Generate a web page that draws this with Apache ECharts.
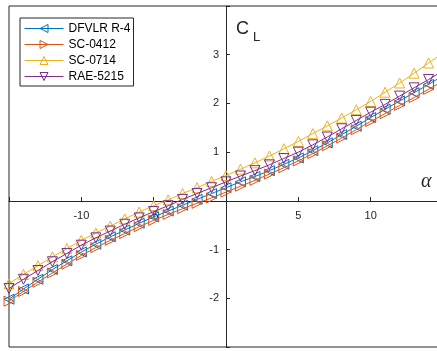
<!DOCTYPE html>
<html><head><meta charset="utf-8">
<script src="https://cdn.jsdelivr.net/npm/echarts@6/dist/echarts.min.js"></script>
<style>html,body{margin:0;padding:0;background:#fff}#c{width:437px;height:351px}</style>
</head><body><div id="c"></div>
<script>
var alpha = [-15,-14,-13,-12,-11,-10,-9,-8,-7,-6,-5,-4,-3,-2,-1,0,1,2,3,4,5,6,7,8,9,10,11,12,13,14,15];
var dfvlr = [-2.02,-1.81,-1.61,-1.41,-1.23,-1.05,-0.89,-0.74,-0.60,-0.46,-0.33,-0.21,-0.09,0.03,0.15,0.27,0.39,0.50,0.62,0.75,0.88,1.03,1.19,1.36,1.53,1.71,1.88,2.05,2.22,2.39,2.57];
var sc0412 = [-2.06,-1.86,-1.67,-1.48,-1.30,-1.12,-0.96,-0.81,-0.67,-0.53,-0.40,-0.28,-0.16,-0.05,0.06,0.18,0.30,0.42,0.55,0.68,0.82,0.97,1.13,1.29,1.46,1.63,1.79,1.96,2.12,2.29,2.46];
var sc0714 = [-1.70,-1.51,-1.33,-1.15,-0.98,-0.81,-0.66,-0.52,-0.37,-0.23,-0.10,0.02,0.15,0.27,0.40,0.52,0.65,0.78,0.92,1.07,1.22,1.38,1.54,1.70,1.87,2.04,2.23,2.42,2.62,2.83,3.04];
var rae5215 = [-1.80,-1.61,-1.43,-1.25,-1.08,-0.91,-0.76,-0.62,-0.48,-0.35,-0.22,-0.10,0.03,0.15,0.27,0.39,0.51,0.62,0.74,0.87,1.00,1.15,1.31,1.48,1.65,1.82,1.98,2.15,2.32,2.49,2.67];
var seriesNames = ['DFVLR R-4','SC-0412','SC-0714','RAE-5215'];
var seriesData = [dfvlr, sc0412, sc0714, rae5215];
var colors = ['#0072BD','#D95319','#EDB120','#7E2F8E'];
var rotations = [90, -90, 0, 180];
var xTickLabels = {'-10':'-10','-5':'-5','5':'5','10':'10'};
var yTickLabels = {'-2':'-2','-1':'-1','1':'1','2':'2','3':'3'};

var chart = echarts.init(document.getElementById('c'));
var series = seriesNames.map(function(n,i){
  return {
    name: n, type: 'line',
    data: alpha.map(function(a,j){return [a, seriesData[i][j]];}),
    symbol: 'triangle', symbolSize: 10, symbolRotate: rotations[i],
    showAllSymbol: true,
    lineStyle: {color: colors[i], width: 1},
    itemStyle: {color: 'none', borderColor: colors[i], borderWidth: 1},
    emphasis: {disabled: true},
    animation: false,
    z: 2 + i
  };
});
chart.setOption({
  animation: false,
  grid: {left: 9, top: 6, width: 434, height: 341, show: true, borderColor: '#262626', borderWidth: 1, containLabel: false, outerBoundsMode: 'none'},
  xAxis: {type: 'value', min: -15, max: 15, interval: 5, position: 'bottom', offset: -146,
    axisLine: {onZero: false, lineStyle: {color: '#262626', width: 1}},
    axisTick: {inside: true, length: 4, lineStyle: {color: '#262626'}},
    axisLabel: {margin: 9, fontSize: 11, color: '#262626', fontFamily: 'Liberation Sans, Arial',
      formatter: function(v){ return xTickLabels[String(v)] || ''; }},
    splitLine: {show: false}},
  yAxis: {type: 'value', min: -3, max: 4, interval: 1, position: 'left', offset: -217,
    axisLine: {onZero: false, lineStyle: {color: '#262626', width: 1}},
    axisTick: {inside: true, length: 4, lineStyle: {color: '#262626'}},
    axisLabel: {margin: 7, fontSize: 11, color: '#262626', fontFamily: 'Liberation Sans, Arial',
      formatter: function(v){ return yTickLabels[String(v)] || ''; }},
    splitLine: {show: false}},
  legend: {
    orient: 'vertical', left: 20, top: 18,
    data: seriesNames.map(function(n,i){
      return {name: n, itemStyle: {color: 'none', borderColor: colors[i], borderWidth: 1}, lineStyle: {width: 1}};
    }),
    itemWidth: 39, itemHeight: 10, itemGap: 3,
    padding: [4, 3, 3, 4],
    lineStyle: {width: 1},
    backgroundColor: '#fff', borderColor: '#262626', borderWidth: 1,
    textStyle: {fontSize: 12, color: '#000', fontFamily: 'Liberation Sans, Arial', padding: [0,0,0,0]},
    selectedMode: false
  },
  graphic: [
    {type: 'text', left: 236, top: 20, style: {text: 'C', font: '18px "Liberation Sans", Arial', fill: '#262626'}},
    {type: 'text', left: 253, top: 31, style: {text: 'L', font: '13px "Liberation Sans", Arial', fill: '#262626'}},
    {type: 'text', left: 421, top: 172, style: {text: 'α', font: 'italic 20px "Liberation Serif", "Times New Roman", serif', fill: '#262626'}}
  ],
  series: series
});
</script></body></html>
